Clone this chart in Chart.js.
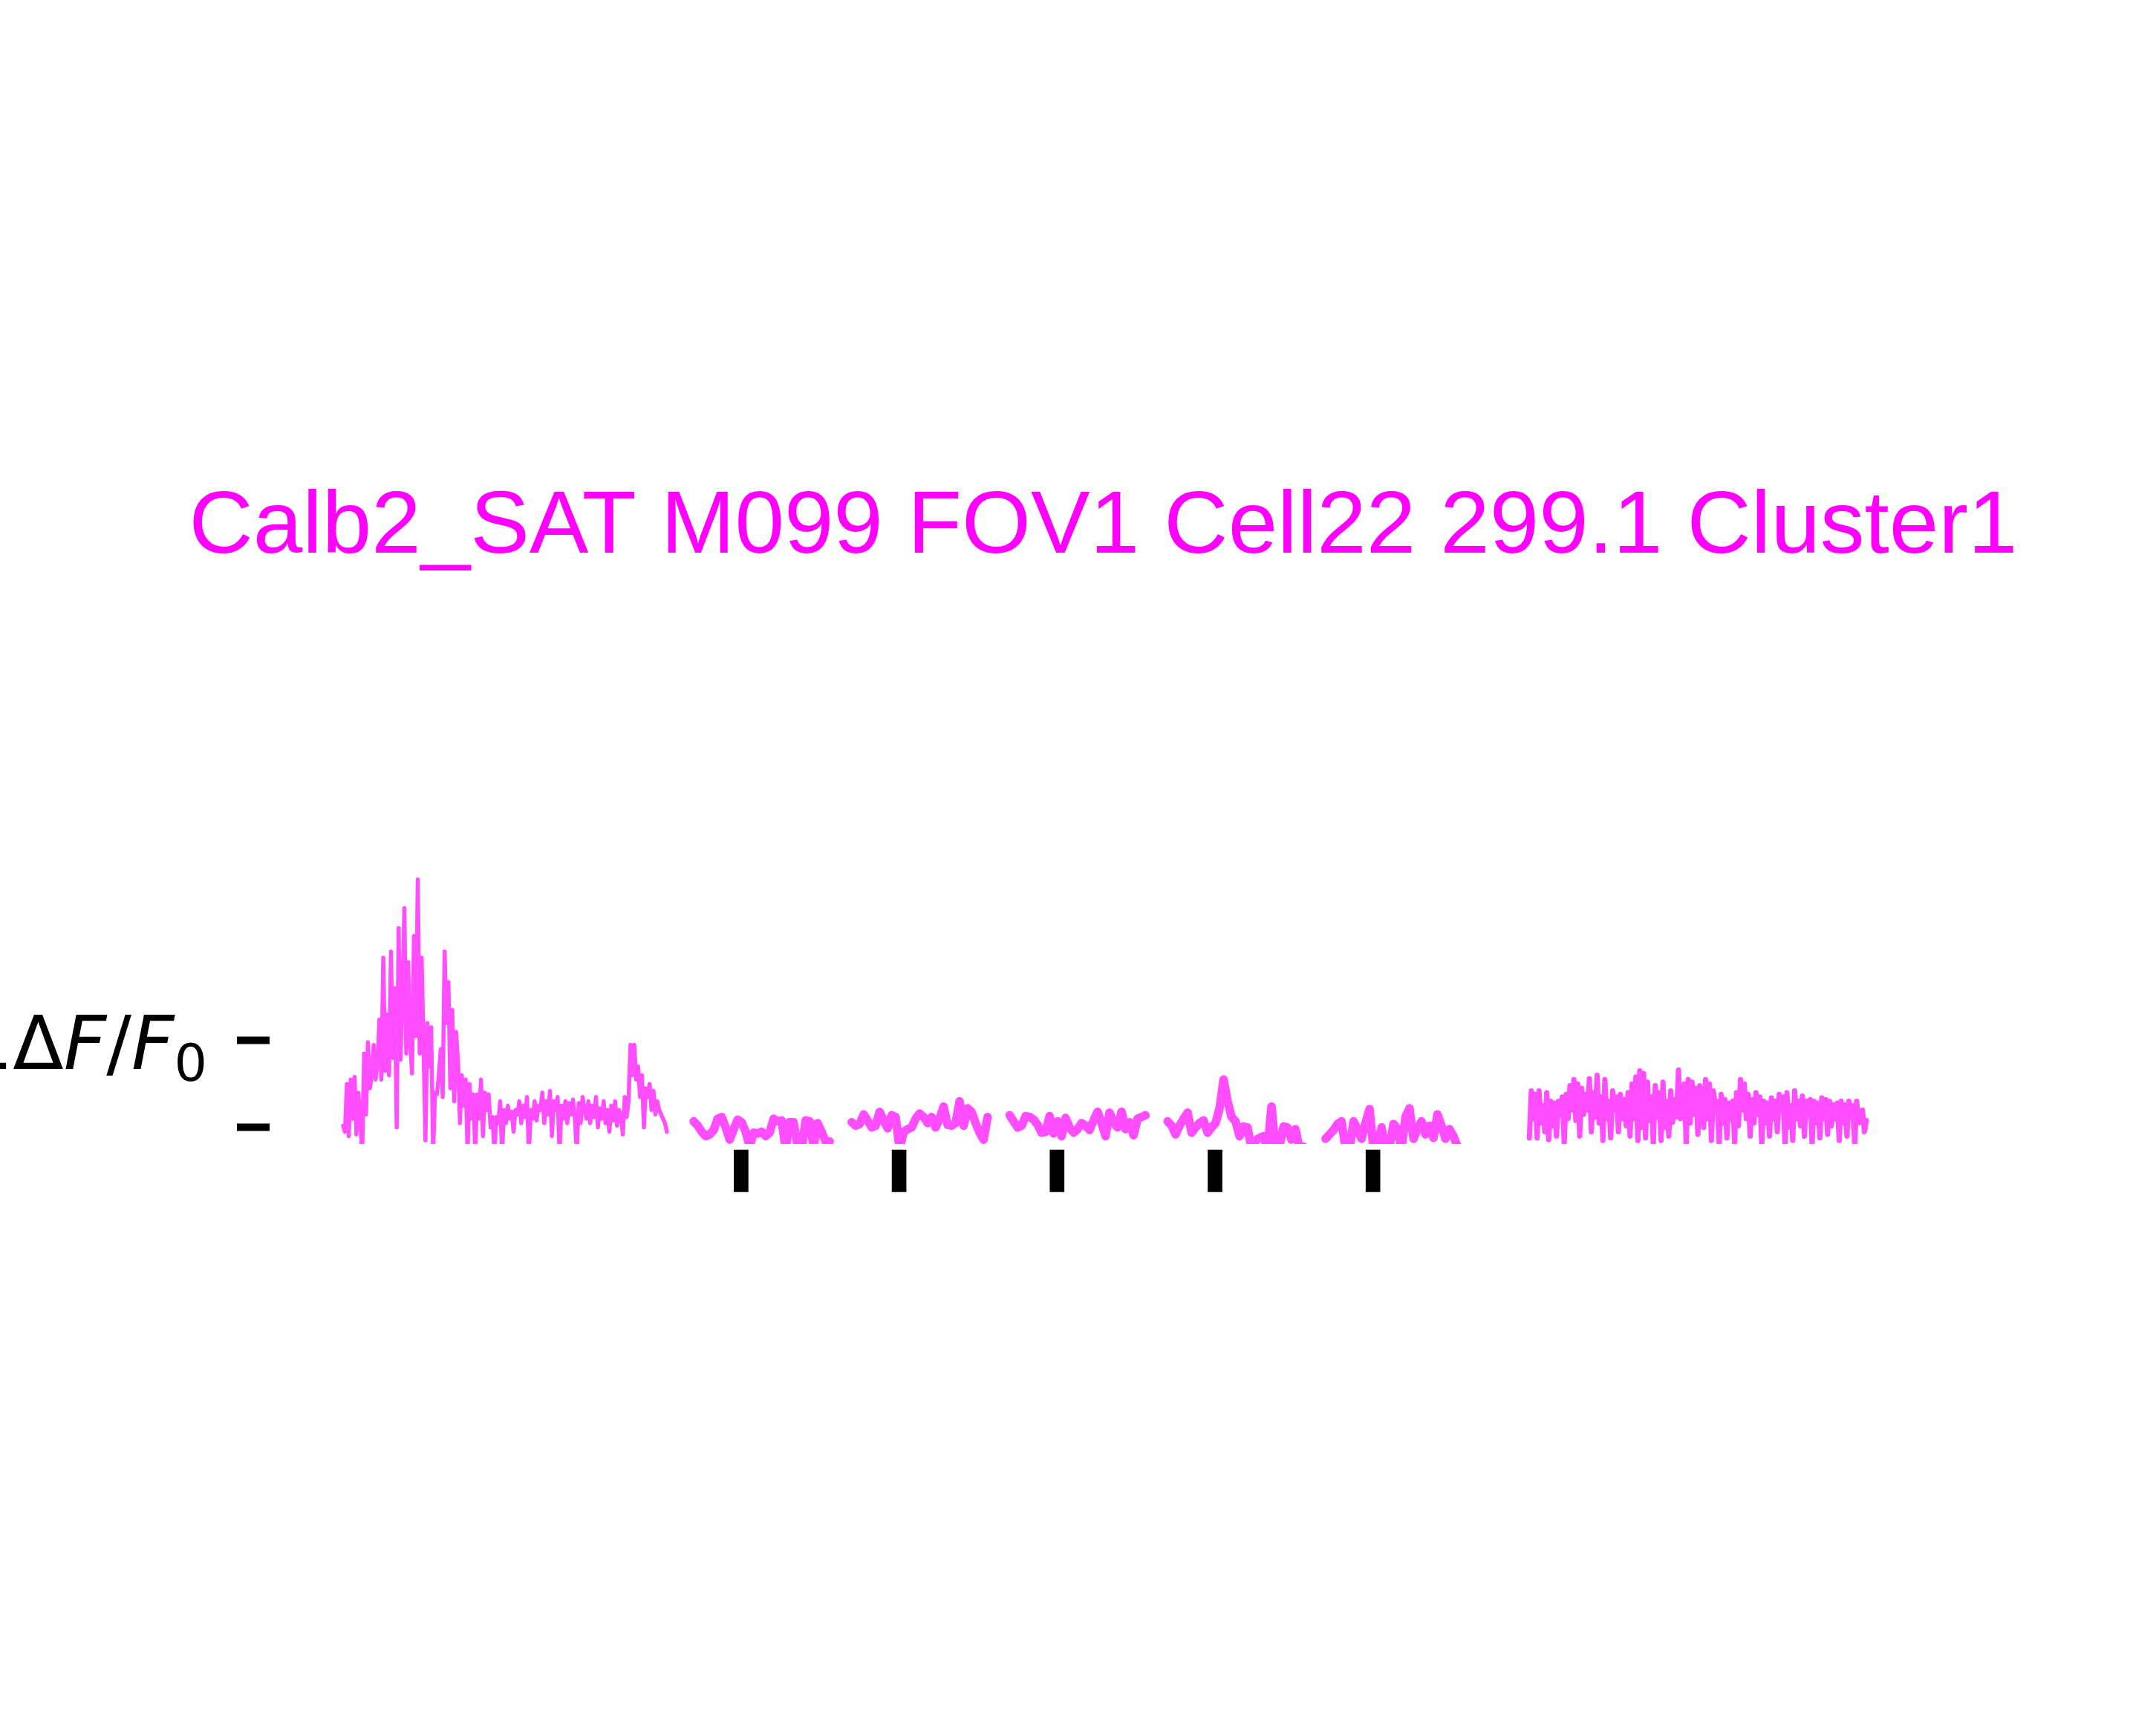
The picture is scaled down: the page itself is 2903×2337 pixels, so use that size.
<!DOCTYPE html>
<html>
<head>
<meta charset="utf-8">
<script src="https://cdn.jsdelivr.net/npm/chart.js@4.4.1/dist/chart.umd.min.js"></script>
<style>
  html, body { margin: 0; padding: 0; background: #ffffff; }
  #myChart { display: block; }
</style>
</head>
<body>
<canvas id="myChart" width="2903" height="2337" style="width:2903px;height:2337px"></canvas>
<script>
// time axis in seconds, 0 = start of the first stimulus window
const preStart = -22.2;
const preStep = 0.1213;
const preValues = [
  0.02, -0.05, 0.5, -0.1, 0.55, 0.1, 0.58, -0.08, 0.4, 0.08,
  -0.3, 0.85, 0.15, 0.98, 0.45, 0.6, 0.95, 0.55, 0.75, 1.24,
  0.55, 1.95, 0.65, 1.3, 0.6, 2.02, 0.8, 1.6, 0.0, 2.29,
  0.78, 1.5, 2.52, 0.85, 1.9, 1.0, 0.62, 2.2, 1.05, 2.85,
  0.85, 1.95, 0.95, -0.15, 1.2, 0.7, 1.15, -0.3, 0.4, 0.38,
  0.6, 0.9, 0.35, 2.02, 1.2, 1.67, 0.45, 1.35, 0.3, 1.1,
  0.75, 0.05, 0.6, 0.25, 0.55, -0.3, 0.5, 0.1, 0.38, -0.3,
  0.38, 0.1, 0.55, -0.1, 0.4, 0.2, 0.38, 0.0, 0.12, -0.3,
  0.12, 0.05, 0.3, -0.3, 0.2, 0.05, 0.25, 0.1, 0.18, -0.05,
  0.2, 0.15, 0.3, 0.05, 0.25, 0.12, 0.35, -0.3, 0.2, 0.1,
  0.3, 0.08, 0.25, 0.2, 0.4, 0.05, 0.3, 0.15, 0.42, -0.1,
  0.3, 0.2, 0.35, -0.3, 0.25, 0.1, 0.3, 0.05, 0.28, 0.15,
  0.32, 0.1, -0.3, 0.28, 0.05, 0.35, 0.2, 0.1, 0.3, 0.05,
  0.25, 0.12, 0.35, 0.0, 0.22, 0.1, 0.3, 0.05, 0.2, -0.05,
  0.25, 0.08, 0.3, 0.02, 0.2, 0.15, -0.08, 0.35, 0.12, 0.3,
  0.95, 0.6, 0.95, 0.55, 0.7, 0.35, 0.6, 0.0, 0.45, 0.35,
  0.5, 0.2, 0.42, 0.15, 0.3, 0.2, 0.15, 0.1, 0.05, -0.05
];

const trialStarts = [0, 10, 20, 30, 40];
const trialStep = 0.253;
const trial1 = [0.07, 0.02, -0.05, -0.1, -0.08, -0.03, 0.1, 0.12, 0.0, -0.14, -0.02, 0.09, 0.06, -0.05, -0.22, -0.06, -0.07, -0.05, -0.1, -0.06, 0.1, 0.07, 0.08, -0.25, 0.06, 0.06, -0.22, -0.25, 0.08, 0.07, -0.22, 0.05, -0.05, -0.16, -0.16];
const trial2 = [0.06, 0.02, 0.04, 0.15, 0.08, 0.0, 0.02, 0.18, 0.08, -0.01, 0.14, 0.12, -0.25, -0.05, -0.02, 0.0, 0.1, 0.16, 0.12, 0.05, 0.12, 0.0, 0.1, 0.24, 0.03, 0.02, 0.05, 0.3, 0.02, 0.22, 0.18, 0.05, -0.06, -0.14, 0.12];
const trial3 = [0.14, 0.07, 0.0, 0.02, 0.13, 0.12, 0.09, 0.03, -0.06, -0.05, 0.13, -0.07, 0.07, -0.1, 0.11, 0.0, -0.06, -0.02, 0.05, 0.02, -0.03, 0.08, 0.18, 0.05, -0.1, 0.17, 0.06, 0.0, 0.18, -0.02, 0.06, -0.09, 0.1, 0.12, 0.14];
const trial4 = [0.07, 0.02, -0.08, 0.02, 0.1, 0.17, -0.06, 0.0, 0.05, 0.08, -0.06, 0.0, 0.05, 0.22, 0.55, 0.3, 0.12, 0.07, -0.1, 0.01, 0.0, -0.25, -0.15, -0.12, -0.1, -0.25, 0.24, -0.25, -0.22, 0.01, 0.0, -0.14, -0.02, -0.25, -0.22];
const trial5 = [-0.13, -0.08, -0.03, 0.04, 0.07, -0.25, -0.25, 0.07, -0.02, -0.13, 0.05, 0.21, -0.25, -0.22, 0.0, -0.25, -0.22, 0.04, -0.02, -0.25, 0.12, 0.22, -0.13, -0.02, 0.07, -0.08, 0.02, -0.12, 0.15, 0.02, -0.13, -0.02, -0.1, -0.22, -0.25];
const trialValues = [trial1, trial2, trial3, trial4, trial5];

const postStart = 52.9;
const postStep = 0.1226;
const postValues = [
  -0.12, 0.42, 0.1, 0.38, -0.12, 0.42, 0.05, 0.25, -0.05, 0.4,
  -0.14, 0.3, 0.02, 0.28, -0.1, 0.3, 0.15, 0.35, -0.19, 0.38,
  0.1, 0.48, 0.2, 0.55, 0.08, 0.5, -0.1, 0.45, 0.15, 0.38,
  0.2, 0.56, -0.05, 0.4, 0.12, 0.6, 0.05, 0.35, -0.15, 0.55,
  0.1, 0.3, -0.12, 0.42, 0.2, 0.35, -0.05, 0.38, 0.1, 0.32,
  0.02, 0.4, -0.1, 0.5, 0.1, 0.58, -0.15, 0.65, 0.0, 0.62,
  -0.12, 0.52, 0.08, 0.35, -0.2, 0.48, 0.12, 0.4, -0.15, 0.52,
  0.0, 0.3, -0.1, 0.42, 0.06, 0.32, 0.12, 0.66, 0.1, 0.2,
  0.5, -0.2, 0.55, 0.05, 0.52, 0.15, 0.45, -0.08, 0.48, 0.3,
  0.0, 0.55, 0.1, 0.5, -0.15, 0.42, 0.25, 0.3, -0.2, 0.38,
  0.05, 0.32, -0.12, 0.28, 0.1, 0.3, -0.18, 0.4, 0.02, 0.55,
  0.2, 0.5, 0.1, 0.38, -0.1, 0.32, 0.05, 0.4, 0.15, 0.35,
  -0.2, 0.3, 0.05, 0.28, -0.1, 0.34, 0.1, 0.3, -0.05, 0.38,
  0.2, 0.35, -0.2, 0.4, 0.0, 0.25, -0.15, 0.42, 0.1, 0.3,
  0.02, 0.36, -0.1, 0.3, 0.15, 0.32, -0.2, 0.3, 0.05, 0.28,
  -0.12, 0.34, 0.1, 0.32, -0.08, 0.3, 0.02, 0.26, 0.1, 0.28,
  -0.15, 0.3, 0.05, 0.26, -0.1, 0.3, 0.12, 0.25, -0.2, 0.3,
  0.05, 0.15, 0.2, -0.05, 0.08
];

// stimulus markers
const stimTimes = [3, 13, 23, 33, 43];
const stimTop = -0.26;
const stimBottom = -0.74;

const yTicks = [0, 1];
const titleText = 'Calb2_SAT M099 FOV1 Cell22 299.1 Cluster1';

const traceColor = '#ff4dff';

function toPoints(values, start, step) {
  return values.map((v, i) => ({ x: start + i * step, y: v }));
}

const datasets = [];
datasets.push({
  data: toPoints(preValues, preStart, preStep),
  borderColor: traceColor,
  borderWidth: 5.5,
});
trialValues.forEach((vals, k) => {
  datasets.push({
    data: toPoints(vals, trialStarts[k], trialStep),
    borderColor: traceColor,
    borderWidth: 11.5,
  });
});
datasets.push({
  data: toPoints(postValues, postStart, postStep),
  borderColor: traceColor,
  borderWidth: 7,
});
datasets.forEach(ds => {
  ds.pointRadius = 0;
  ds.tension = 0;
  ds.borderCapStyle = 'round';
  ds.borderJoinStyle = 'round';
  ds.clip = 0;
});

datasets.push({
  type: 'bar',
  data: stimTimes.map(t => ({ x: t, y: [stimBottom, stimTop] })),
  backgroundColor: '#000000',
  borderWidth: 0,
  barThickness: 19,
  clip: false,
});

// y label "1ΔF/F0" with italic F and subscript 0
const yLabelPlugin = {
  id: 'yLabel',
  afterDraw(chart) {
    const ctx = chart.ctx;
    const ys = chart.scales.y;
    const y = ys.getPixelForValue(1) + 38;
    const parts = [
      { t: '1', f: '100px "DejaVu Sans"', dy: 0 },
      { t: 'Δ', f: '100px "DejaVu Sans"', dy: 0 },
      { t: 'F', f: 'italic 100px "DejaVu Sans"', dy: 0 },
      { t: '/', f: '100px "DejaVu Sans"', dy: 0 },
      { t: 'F', f: 'italic 100px "DejaVu Sans"', dy: 0 },
      { t: '0', f: '70px "DejaVu Sans"', dy: 16 },
    ];
    ctx.save();
    ctx.fillStyle = '#000000';
    ctx.textBaseline = 'alphabetic';
    ctx.textAlign = 'left';
    let total = 0;
    parts.forEach(p => { ctx.font = p.f; p.w = ctx.measureText(p.t).width; total += p.w; });
    let x = ys.right - 84 - total;
    parts.forEach(p => {
      ctx.font = p.f;
      ctx.fillText(p.t, x, y + p.dy);
      x += p.w;
    });
    ctx.restore();
  }
};

const config = {
  type: 'line',
  data: { datasets: datasets },
  options: {
    responsive: false,
    animation: false,
    devicePixelRatio: 1,
    layout: {
      padding: { left: 68, right: 0, top: 0, bottom: 797 },
    },
    scales: {
      x: {
        type: 'linear',
        display: false,
        offset: false,
        min: -26.85,
        max: 92.57,
      },
      y: {
        type: 'linear',
        min: -0.19,
        max: 3.2,
        afterBuildTicks: (scale) => {
          scale.ticks = yTicks.map(v => ({ value: v }));
        },
        afterFit: (scale) => {
          scale.width = 295;
        },
        border: { display: false },
        grid: {
          drawOnChartArea: false,
          drawTicks: true,
          tickLength: 44,
          tickWidth: 10,
          tickColor: '#000000',
        },
        ticks: {
          callback: () => '',
        },
      },
    },
    plugins: {
      legend: { display: false },
      tooltip: { enabled: false },
      title: {
        display: true,
        text: titleText,
        color: '#ff00ff',
        font: { family: '"Liberation Sans", Arial, sans-serif', size: 119.5, weight: 'normal', lineHeight: 1.2 },
        padding: { top: 639.5, bottom: 360 },
      },
    },
  },
  plugins: [yLabelPlugin],
};

const ctx = document.getElementById('myChart').getContext('2d');
const myChart = new Chart(ctx, config);
</script>
</body>
</html>
